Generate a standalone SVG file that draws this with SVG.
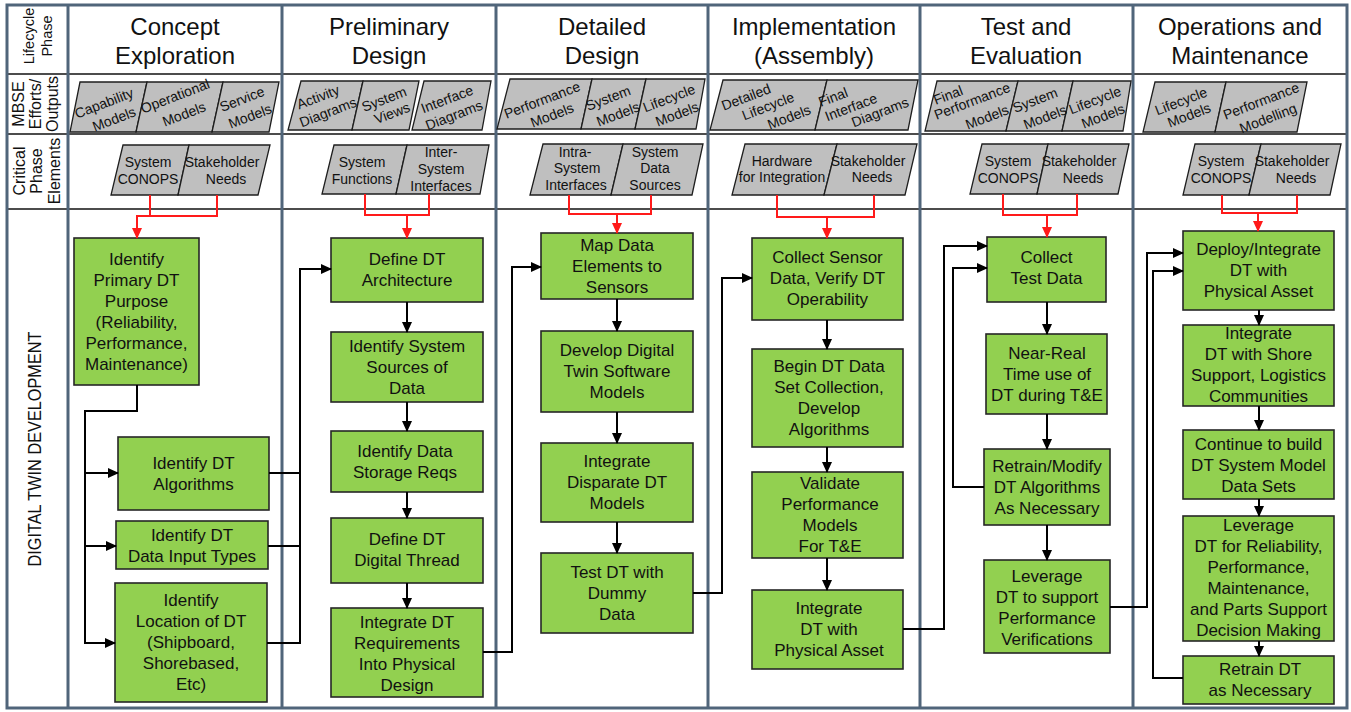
<svg xmlns="http://www.w3.org/2000/svg" width="1351" height="712" viewBox="0 0 1351 712">
  <defs>
    <style>
      .frame { fill: none; stroke: #50657a; stroke-width: 3; }
      .row { stroke: #111; stroke-width: 1.5; }
      .lbl { font-family: "Liberation Sans", Arial, sans-serif; fill: #111; }
      .hdr { font-size: 24px; text-anchor: middle; }
      .side { font-size: 16px; text-anchor: middle; }
      .mb { fill: #bfbfbf; stroke: #1e1e1e; stroke-width: 1.3; }
      .mbt { font-size: 14px; text-anchor: middle; dominant-baseline: central; }
      .crt { font-size: 14px; text-anchor: middle; }
      .box { fill: #92d050; stroke: #262626; stroke-width: 1.6; }
      .bt { font-size: 17px; text-anchor: middle; }
      .wire { fill: none; stroke: #000; stroke-width: 2; }
      .red { fill: none; stroke: #ff1a1a; stroke-width: 2; }
    </style>
    <marker id="ah" markerUnits="userSpaceOnUse" markerWidth="11" markerHeight="10" refX="10" refY="5" orient="auto">
      <path d="M0,0 L11,5 L0,10 z" fill="#000"/>
    </marker>
    <marker id="ahr" markerUnits="userSpaceOnUse" markerWidth="11" markerHeight="10" refX="10" refY="5" orient="auto">
      <path d="M0,0 L11,5 L0,10 z" fill="#ff1a1a"/>
    </marker>
  </defs>

  <rect width="1351" height="712" fill="#fff"/>

  <!-- table grid -->
  <g id="grid">
    <line class="row" x1="7" y1="74" x2="1347" y2="74"/>
    <line class="row" x1="7" y1="134" x2="1347" y2="134"/>
    <line class="row" x1="7" y1="209" x2="1347" y2="209"/>
    <rect class="frame" x="7" y="5" width="1340" height="703"/>
    <line class="frame" x1="68" y1="5" x2="68" y2="708"/>
    <line class="frame" x1="282" y1="5" x2="282" y2="708"/>
    <line class="frame" x1="496" y1="5" x2="496" y2="708"/>
    <line class="frame" x1="708" y1="5" x2="708" y2="708"/>
    <line class="frame" x1="920" y1="5" x2="920" y2="708"/>
    <line class="frame" x1="1133" y1="5" x2="1133" y2="708"/>
  </g>

  <!-- row titles -->
  <g id="row-titles" class="lbl side">
    <text transform="translate(34,36) rotate(-90)" style="font-size:14.5px">Lifecycle</text>
    <text transform="translate(52,36) rotate(-90)" style="font-size:14.5px">Phase</text>
    <text transform="translate(24,104) rotate(-90)">MBSE</text>
    <text transform="translate(41,104) rotate(-90)">Efforts/</text>
    <text transform="translate(58,104) rotate(-90)">Outputs</text>
    <text transform="translate(25,171) rotate(-90)">Critical</text>
    <text transform="translate(42,171) rotate(-90)">Phase</text>
    <text transform="translate(60,171) rotate(-90)">Elements</text>
    <text transform="translate(41,449) rotate(-90)" style="font-size:18px" textLength="235" lengthAdjust="spacingAndGlyphs">DIGITAL TWIN DEVELOPMENT</text>
  </g>

  <!-- phase headers -->
  <g id="headers" class="lbl hdr">
    <text x="175" y="35">Concept</text><text x="175" y="64">Exploration</text>
    <text x="389" y="35">Preliminary</text><text x="389" y="64">Design</text>
    <text x="602" y="35">Detailed</text><text x="602" y="64">Design</text>
    <text x="814" y="35">Implementation</text><text x="814" y="64">(Assembly)</text>
    <text x="1026" y="35">Test and</text><text x="1026" y="64">Evaluation</text>
    <text x="1240" y="35">Operations and</text><text x="1240" y="64">Maintenance</text>
  </g>

  <!-- MBSE efforts / outputs -->
  <g id="mbse">
    <polygon class="mb" points="80,82 147,82 136,132 70,132"/>
    <polygon class="mb" points="147,82 223,82 212,132 136,132"/>
    <polygon class="mb" points="223,82 279,82 269,132 212,132"/>
    <polygon class="mb" points="301,81 363,81 352,130 288,130"/>
    <polygon class="mb" points="363,81 419,81 409,130 352,130"/>
    <polygon class="mb" points="424,81 491,81 482,130 412,130"/>
    <polygon class="mb" points="510,79 592,79 581,129 497,129"/>
    <polygon class="mb" points="592,79 646,79 635,129 581,129"/>
    <polygon class="mb" points="646,79 705,79 696,129 635,129"/>
    <polygon class="mb" points="723,80 827,80 815,130 710,130"/>
    <polygon class="mb" points="827,80 918,80 908,130 815,130"/>
    <polygon class="mb" points="937,81 1018,81 1006,131 925,131"/>
    <polygon class="mb" points="1018,81 1073,81 1062,131 1006,131"/>
    <polygon class="mb" points="1073,81 1131,81 1123,131 1062,131"/>
    <polygon class="mb" points="1155,82 1226,82 1215,132 1143,132"/>
    <polygon class="mb" points="1226,82 1307,82 1297,132 1215,132"/>
    <g class="lbl mbt">
      <text transform="translate(104,103) rotate(-21)">Capability</text>
      <text transform="translate(114,119) rotate(-21)">Models</text>
      <text transform="translate(175,96) rotate(-21)">Operational</text>
      <text transform="translate(184,114) rotate(-21)">Models</text>
      <text transform="translate(242,99) rotate(-21)">Service</text>
      <text transform="translate(250,116) rotate(-21)">Models</text>
      <text transform="translate(318,97) rotate(-21)">Activity</text>
      <text transform="translate(328,112) rotate(-21)">Diagrams</text>
      <text transform="translate(384,99) rotate(-21)">System</text>
      <text transform="translate(392,113) rotate(-21)">Views</text>
      <text transform="translate(447,99) rotate(-21)">Interface</text>
      <text transform="translate(454,115) rotate(-21)">Diagrams</text>
      <text transform="translate(542,100) rotate(-21)">Performance</text>
      <text transform="translate(552,115) rotate(-21)">Models</text>
      <text transform="translate(608,98) rotate(-21)">System</text>
      <text transform="translate(618,114) rotate(-21)">Models</text>
      <text transform="translate(669,98) rotate(-21)">Lifecycle</text>
      <text transform="translate(677,114) rotate(-21)">Models</text>
      <text transform="translate(746,97) rotate(-21)">Detailed</text>
      <text transform="translate(768,106) rotate(-21)">Lifecycle</text>
      <text transform="translate(789,117) rotate(-21)">Models</text>
      <text transform="translate(833,97) rotate(-21)">Final</text>
      <text transform="translate(851,107) rotate(-21)">Interface</text>
      <text transform="translate(880,112) rotate(-21)">Diagrams</text>
      <text transform="translate(948,95) rotate(-21)">Final</text>
      <text transform="translate(972,101) rotate(-21)">Performance</text>
      <text transform="translate(987,117) rotate(-21)">Models</text>
      <text transform="translate(1035,100) rotate(-21)">System</text>
      <text transform="translate(1045,117) rotate(-21)">Models</text>
      <text transform="translate(1095,100) rotate(-21)">Lifecycle</text>
      <text transform="translate(1103,116) rotate(-21)">Models</text>
      <text transform="translate(1181,101) rotate(-21)">Lifecycle</text>
      <text transform="translate(1189,115) rotate(-21)">Models</text>
      <text transform="translate(1261,101) rotate(-21)">Performance</text>
      <text transform="translate(1268,118) rotate(-21)">Modelling</text>
    </g>
  </g>

  <!-- critical phase elements -->
  <g id="critical">
    <polygon class="mb" points="123,145 189,145 178,195 111,195"/>
    <polygon class="mb" points="189,145 270,145 258,195 178,195"/>
    <polygon class="mb" points="334,145 407,145 396,194 322,194"/>
    <polygon class="mb" points="407,145 489,145 480,194 396,194"/>
    <polygon class="mb" points="543,144 623,144 611,195 530,195"/>
    <polygon class="mb" points="623,144 703,144 692,195 611,195"/>
    <polygon class="mb" points="745,144 837,144 824,195 732,195"/>
    <polygon class="mb" points="837,144 917,144 905,195 824,195"/>
    <polygon class="mb" points="982,144 1048,144 1037,194 970,194"/>
    <polygon class="mb" points="1048,144 1129,144 1118,194 1037,194"/>
    <polygon class="mb" points="1195,144 1261,144 1249,195 1183,195"/>
    <polygon class="mb" points="1261,144 1341,144 1330,195 1249,195"/>
    <g class="lbl crt">
      <text x="148" y="167">System</text><text x="148" y="184">CONOPS</text>
      <text x="222" y="167">Stakeholder</text><text x="226" y="184">Needs</text>
      <text x="362" y="167">System</text><text x="362" y="184">Functions</text>
      <text x="441" y="157">Inter-</text><text x="441" y="174">System</text><text x="441" y="191">Interfaces</text>
      <text x="575" y="157">Intra-</text><text x="577" y="173">System</text><text x="576" y="190">Interfaces</text>
      <text x="655" y="157">System</text><text x="655" y="173">Data</text><text x="655" y="190">Sources</text>
      <text x="782" y="166">Hardware</text><text x="782" y="182">for Integration</text>
      <text x="868" y="166">Stakeholder</text><text x="872" y="182">Needs</text>
      <text x="1008" y="166">System</text><text x="1008" y="183">CONOPS</text>
      <text x="1079" y="166">Stakeholder</text><text x="1083" y="183">Needs</text>
      <text x="1221" y="166">System</text><text x="1221" y="183">CONOPS</text>
      <text x="1292" y="166">Stakeholder</text><text x="1296" y="183">Needs</text>
    </g>
  </g>

  <!-- Concept Exploration nodes -->
  <g id="n-primary-purpose">
    <rect class="box" x="74" y="238" width="125" height="147"/>
    <text class="lbl bt"><tspan x="136.5" y="265">Identify</tspan><tspan x="136.5" dy="21">Primary DT</tspan><tspan x="136.5" dy="21">Purpose</tspan><tspan x="136.5" dy="21">(Reliability,</tspan><tspan x="136.5" dy="21">Performance,</tspan><tspan x="136.5" dy="21">Maintenance)</tspan></text>
  </g>
  <g id="n-dt-algorithms">
    <rect class="box" x="118" y="437" width="151" height="73"/>
    <text class="lbl bt"><tspan x="193.5" y="469">Identify DT</tspan><tspan x="193.5" dy="21">Algorithms</tspan></text>
  </g>
  <g id="n-data-input-types">
    <rect class="box" x="116" y="521" width="152" height="48"/>
    <text class="lbl bt"><tspan x="192" y="541">Identify DT</tspan><tspan x="192" dy="21">Data Input Types</tspan></text>
  </g>
  <g id="n-location">
    <rect class="box" x="115" y="583" width="152" height="119"/>
    <text class="lbl bt"><tspan x="191" y="606">Identify</tspan><tspan x="191" dy="21">Location of DT</tspan><tspan x="191" dy="21">(Shipboard,</tspan><tspan x="191" dy="21">Shorebased,</tspan><tspan x="191" dy="21">Etc)</tspan></text>
  </g>

  <!-- Preliminary Design nodes -->
  <g id="n-architecture">
    <rect class="box" x="331" y="238" width="152" height="64"/>
    <text class="lbl bt"><tspan x="407" y="265">Define DT</tspan><tspan x="407" dy="21">Architecture</tspan></text>
  </g>
  <g id="n-system-sources">
    <rect class="box" x="331" y="332" width="152" height="70"/>
    <text class="lbl bt"><tspan x="407" y="352">Identify System</tspan><tspan x="407" dy="21">Sources of</tspan><tspan x="407" dy="21">Data</tspan></text>
  </g>
  <g id="n-storage-reqs">
    <rect class="box" x="331" y="431" width="152" height="61"/>
    <text class="lbl bt"><tspan x="405" y="457">Identify Data</tspan><tspan x="405" dy="21">Storage Reqs</tspan></text>
  </g>
  <g id="n-digital-thread">
    <rect class="box" x="331" y="518" width="152" height="65"/>
    <text class="lbl bt"><tspan x="407" y="545">Define DT</tspan><tspan x="407" dy="21">Digital Thread</tspan></text>
  </g>
  <g id="n-integrate-reqs">
    <rect class="box" x="331" y="608" width="152" height="89"/>
    <text class="lbl bt"><tspan x="407" y="628">Integrate DT</tspan><tspan x="407" dy="21">Requirements</tspan><tspan x="407" dy="21">Into Physical</tspan><tspan x="407" dy="21">Design</tspan></text>
  </g>

  <!-- Detailed Design nodes -->
  <g id="n-map-data">
    <rect class="box" x="541" y="233" width="152" height="66"/>
    <text class="lbl bt"><tspan x="617" y="251">Map Data</tspan><tspan x="617" dy="21">Elements to</tspan><tspan x="617" dy="21">Sensors</tspan></text>
  </g>
  <g id="n-software-models">
    <rect class="box" x="541" y="331" width="152" height="81"/>
    <text class="lbl bt"><tspan x="617" y="356">Develop Digital</tspan><tspan x="617" dy="21">Twin Software</tspan><tspan x="617" dy="21">Models</tspan></text>
  </g>
  <g id="n-disparate-models">
    <rect class="box" x="541" y="443" width="152" height="79"/>
    <text class="lbl bt"><tspan x="617" y="467">Integrate</tspan><tspan x="617" dy="21">Disparate DT</tspan><tspan x="617" dy="21">Models</tspan></text>
  </g>
  <g id="n-dummy-data">
    <rect class="box" x="541" y="553" width="152" height="80"/>
    <text class="lbl bt"><tspan x="617" y="578">Test DT with</tspan><tspan x="617" dy="21">Dummy</tspan><tspan x="617" dy="21">Data</tspan></text>
  </g>

  <!-- Implementation nodes -->
  <g id="n-sensor-data">
    <rect class="box" x="752" y="238" width="151" height="82"/>
    <text class="lbl bt"><tspan x="827.5" y="263">Collect Sensor</tspan><tspan x="827.5" dy="21">Data, Verify DT</tspan><tspan x="827.5" dy="21">Operability</tspan></text>
  </g>
  <g id="n-data-set">
    <rect class="box" x="752" y="349" width="151" height="98"/>
    <text class="lbl bt"><tspan x="829" y="372">Begin DT Data</tspan><tspan x="829" dy="21">Set Collection,</tspan><tspan x="829" dy="21">Develop</tspan><tspan x="829" dy="21">Algorithms</tspan></text>
  </g>
  <g id="n-validate">
    <rect class="box" x="752" y="472" width="151" height="86"/>
    <text class="lbl bt"><tspan x="830" y="489">Validate</tspan><tspan x="830" dy="21">Performance</tspan><tspan x="830" dy="21">Models</tspan><tspan x="830" dy="21">For T&amp;E</tspan></text>
  </g>
  <g id="n-physical-asset">
    <rect class="box" x="752" y="590" width="151" height="79"/>
    <text class="lbl bt"><tspan x="829" y="614">Integrate</tspan><tspan x="829" dy="21">DT with</tspan><tspan x="829" dy="21">Physical Asset</tspan></text>
  </g>

  <!-- Test and Evaluation nodes -->
  <g id="n-test-data">
    <rect class="box" x="987" y="237" width="119" height="65"/>
    <text class="lbl bt"><tspan x="1046.5" y="263">Collect</tspan><tspan x="1046.5" dy="21">Test Data</tspan></text>
  </g>
  <g id="n-near-real-time">
    <rect class="box" x="986" y="334" width="121" height="80"/>
    <text class="lbl bt"><tspan x="1047" y="359">Near-Real</tspan><tspan x="1047" dy="21">Time use of</tspan><tspan x="1047" dy="21">DT during T&amp;E</tspan></text>
  </g>
  <g id="n-retrain-modify">
    <rect class="box" x="984" y="449" width="126" height="76"/>
    <text class="lbl bt"><tspan x="1047" y="472">Retrain/Modify</tspan><tspan x="1047" dy="21">DT Algorithms</tspan><tspan x="1047" dy="21">As Necessary</tspan></text>
  </g>
  <g id="n-verifications">
    <rect class="box" x="984" y="560" width="126" height="93"/>
    <text class="lbl bt"><tspan x="1047" y="582">Leverage</tspan><tspan x="1047" dy="21">DT to support</tspan><tspan x="1047" dy="21">Performance</tspan><tspan x="1047" dy="21">Verifications</tspan></text>
  </g>

  <!-- Operations and Maintenance nodes -->
  <g id="n-deploy">
    <rect class="box" x="1183" y="231" width="151" height="79"/>
    <text class="lbl bt"><tspan x="1258.5" y="255">Deploy/Integrate</tspan><tspan x="1258.5" dy="21">DT with</tspan><tspan x="1258.5" dy="21">Physical Asset</tspan></text>
  </g>
  <g id="n-shore-support">
    <rect class="box" x="1183" y="325" width="151" height="81"/>
    <text class="lbl bt"><tspan x="1258.5" y="339">Integrate</tspan><tspan x="1258.5" dy="21">DT with Shore</tspan><tspan x="1258.5" dy="21">Support, Logistics</tspan><tspan x="1258.5" dy="21">Communities</tspan></text>
  </g>
  <g id="n-system-model">
    <rect class="box" x="1183" y="430" width="151" height="69"/>
    <text class="lbl bt"><tspan x="1258.5" y="450">Continue to build</tspan><tspan x="1258.5" dy="21">DT System Model</tspan><tspan x="1258.5" dy="21">Data Sets</tspan></text>
  </g>
  <g id="n-decision-making">
    <rect class="box" x="1183" y="516" width="151" height="125"/>
    <text class="lbl bt"><tspan x="1258.5" y="531">Leverage</tspan><tspan x="1258.5" dy="21">DT for Reliability,</tspan><tspan x="1258.5" dy="21">Performance,</tspan><tspan x="1258.5" dy="21">Maintenance,</tspan><tspan x="1258.5" dy="21">and Parts Support</tspan><tspan x="1258.5" dy="21">Decision Making</tspan></text>
  </g>
  <g id="n-retrain">
    <rect class="box" x="1183" y="656" width="151" height="48"/>
    <text class="lbl bt"><tspan x="1260" y="675">Retrain DT</tspan><tspan x="1260" dy="21">as Necessary</tspan></text>
  </g>

  <!-- connectors -->
  <g id="connectors">
    <!-- critical elements feeding each phase -->
    <path class="red" d="M150,195 V216"/>
    <path class="red" d="M217,195 V216 H137 V238" marker-end="url(#ahr)"/>
    <path class="red" d="M365,194 V215 H429 V194"/>
    <path class="red" d="M407,215 V238" marker-end="url(#ahr)"/>
    <path class="red" d="M569,195 V214 H651 V195"/>
    <path class="red" d="M617,214 V233" marker-end="url(#ahr)"/>
    <path class="red" d="M777,195 V217 H874 V195"/>
    <path class="red" d="M827,217 V238" marker-end="url(#ahr)"/>
    <path class="red" d="M1003,194 V215 H1077 V194"/>
    <path class="red" d="M1047,215 V237" marker-end="url(#ahr)"/>
    <path class="red" d="M1222,195 V213 H1297 V195"/>
    <path class="red" d="M1258,213 V231" marker-end="url(#ahr)"/>

    <!-- concept exploration -->
    <path class="wire" d="M137,385 V411 H85 V643 H115" marker-end="url(#ah)"/>
    <path class="wire" d="M85,473 H118" marker-end="url(#ah)"/>
    <path class="wire" d="M85,546 H116" marker-end="url(#ah)"/>
    <path class="wire" d="M269,473 H300"/>
    <path class="wire" d="M268,546 H300"/>
    <path class="wire" d="M267,643 H300 V269 H331" marker-end="url(#ah)"/>

    <!-- preliminary design -->
    <path class="wire" d="M407,302 V332" marker-end="url(#ah)"/>
    <path class="wire" d="M407,402 V431" marker-end="url(#ah)"/>
    <path class="wire" d="M407,492 V518" marker-end="url(#ah)"/>
    <path class="wire" d="M407,583 V608" marker-end="url(#ah)"/>
    <path class="wire" d="M483,652 H512 V267 H541" marker-end="url(#ah)"/>

    <!-- detailed design -->
    <path class="wire" d="M617,299 V331" marker-end="url(#ah)"/>
    <path class="wire" d="M617,412 V443" marker-end="url(#ah)"/>
    <path class="wire" d="M617,522 V553" marker-end="url(#ah)"/>
    <path class="wire" d="M693,593 H722 V278 H752" marker-end="url(#ah)"/>

    <!-- implementation -->
    <path class="wire" d="M827,320 V349" marker-end="url(#ah)"/>
    <path class="wire" d="M827,447 V472" marker-end="url(#ah)"/>
    <path class="wire" d="M827,558 V590" marker-end="url(#ah)"/>
    <path class="wire" d="M903,629 H944 V246 H987" marker-end="url(#ah)"/>

    <!-- test and evaluation -->
    <path class="wire" d="M1047,302 V334" marker-end="url(#ah)"/>
    <path class="wire" d="M1047,414 V449" marker-end="url(#ah)"/>
    <path class="wire" d="M1047,525 V560" marker-end="url(#ah)"/>
    <path class="wire" d="M984,487 H953 V268 H987" marker-end="url(#ah)"/>
    <path class="wire" d="M1110,607 H1147 V253 H1183" marker-end="url(#ah)"/>

    <!-- operations and maintenance -->
    <path class="wire" d="M1259,310 V325" marker-end="url(#ah)"/>
    <path class="wire" d="M1259,406 V430" marker-end="url(#ah)"/>
    <path class="wire" d="M1259,499 V516" marker-end="url(#ah)"/>
    <path class="wire" d="M1259,641 V656" marker-end="url(#ah)"/>
    <path class="wire" d="M1183,678 H1153 V271 H1183" marker-end="url(#ah)"/>
  </g>
</svg>
